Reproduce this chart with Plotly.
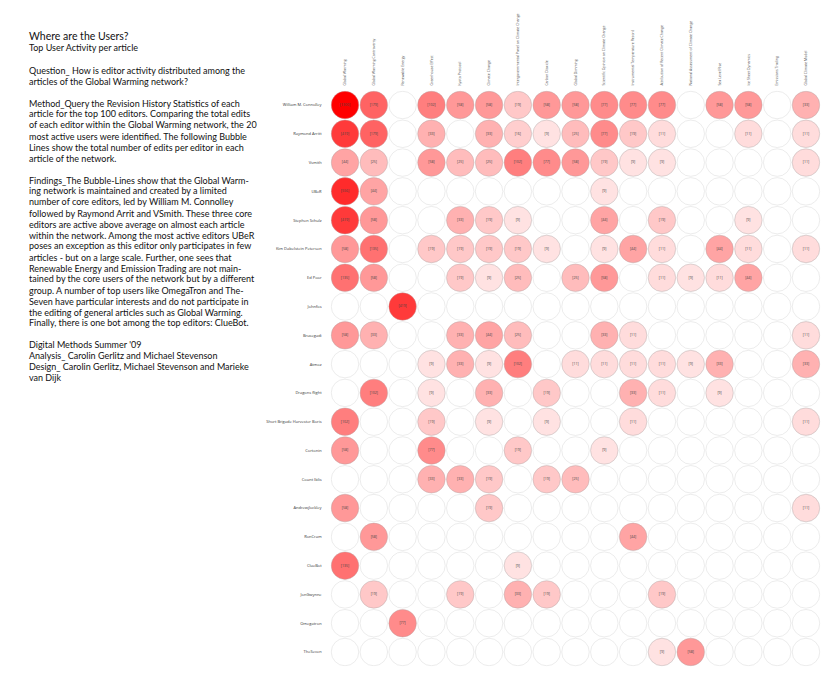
import math
import plotly.graph_objects as go

users = ["William M. Connolley", "Raymond Arritt", "Vsmith", "UBeR", "Stephen Schulz",
         "Kim Dabelstein Petersen", "Ed Poor", "Johnfos", "Brusegadi", "Atmoz",
         "Dragons flight", "Short Brigade Harvester Boris", "Cortonin", "Count Iblis",
         "Andrewjlockley", "RonCram", "ClueBot", "JonGwynne", "Omegatron", "TheSeven"]

articles = ["Global Warming", "Global Warming Controversy", "Renewable Energy",
            "Greenhouse Effect", "Kyoto Protocol", "Climate Change",
            "Intergovernmental Panel on Climate Change", "Carbon Dioxide",
            "Global Dimming", "Scientific Opinion on Climate Change",
            "Instrumental Temperature Record", "Attribution of Recent Climate Change",
            "National Assessment of Climate Change", "Sea Level Rise",
            "Ice Sheet Dynamics", "Emissions Trading", "Global Climate Model"]

# edits per user (rows) and article (columns); 0 = no activity
edits = [
    [1300, 179, 0, 102, 58, 58, 19, 58, 58, 77, 77, 77, 0, 58, 58, 0, 33],
    [419, 179, 0, 33, 0, 33, 16, 9, 25, 77, 19, 11, 0, 0, 11, 0, 11],
    [44, 25, 0, 58, 25, 25, 102, 77, 58, 19, 9, 9, 0, 0, 0, 0, 11],
    [556, 44, 0, 0, 0, 0, 0, 0, 0, 9, 0, 0, 0, 0, 0, 0, 0],
    [419, 58, 0, 0, 33, 19, 9, 0, 0, 44, 0, 19, 0, 0, 9, 0, 0],
    [58, 135, 0, 19, 19, 19, 19, 9, 0, 9, 44, 11, 0, 44, 11, 0, 11],
    [135, 58, 0, 0, 19, 9, 25, 0, 25, 58, 0, 11, 9, 11, 44, 0, 0],
    [0, 0, 419, 0, 0, 0, 0, 0, 0, 0, 0, 0, 0, 0, 0, 0, 0],
    [58, 33, 0, 0, 33, 44, 25, 0, 0, 33, 11, 0, 0, 0, 0, 0, 11],
    [0, 0, 0, 9, 33, 9, 102, 0, 11, 11, 11, 11, 9, 33, 0, 0, 33],
    [0, 102, 0, 9, 0, 33, 0, 19, 0, 0, 33, 11, 0, 9, 0, 0, 0],
    [102, 0, 0, 19, 0, 9, 0, 9, 0, 0, 11, 0, 0, 0, 0, 0, 11],
    [58, 0, 0, 77, 0, 0, 19, 0, 0, 9, 0, 0, 0, 0, 0, 0, 0],
    [0, 0, 0, 33, 33, 19, 0, 19, 25, 0, 0, 0, 0, 0, 0, 0, 0],
    [58, 0, 0, 0, 0, 19, 0, 0, 0, 0, 0, 0, 0, 0, 0, 0, 11],
    [0, 58, 0, 0, 0, 0, 0, 0, 0, 0, 44, 0, 0, 0, 0, 0, 0],
    [135, 0, 0, 0, 0, 0, 9, 0, 0, 0, 0, 0, 0, 0, 0, 0, 0],
    [0, 19, 0, 0, 19, 0, 33, 19, 0, 0, 0, 19, 0, 0, 0, 0, 0],
    [0, 0, 77, 0, 0, 0, 0, 0, 0, 0, 0, 0, 0, 0, 0, 0, 0],
    [0, 0, 0, 0, 0, 0, 0, 0, 0, 0, 0, 9, 58, 0, 0, 0, 0],
]

text_lines = [
    ("Where are the Users?", 36, 10.5),
    ("Top User Activity per article", 47.5, 9),
    ("Question_ How is editor activity distributed among the", 70.5, 9),
    ("articles of the Global Warming network?", 81.5, 9),
    ("Method_Query the Revision History Statistics of each", 103, 9),
    ("article for the top 100 editors. Comparing the total edits", 114, 9),
    ("of each editor within the Global Warming network, the 20", 125, 9),
    ("most active users were identified. The following Bubble", 136, 9),
    ("Lines show the total number of edits per editor in each", 147, 9),
    ("article of the network.", 158, 9),
    ("Findings_The Bubble-Lines show that the Global Warm-", 180, 9),
    ("ing network is maintained and created by a limited", 191, 9),
    ("number of core editors, led by William M. Connolley", 202, 9),
    ("followed by Raymond Arrit and VSmith. These three core", 213, 9),
    ("editors are active above average on almost each article", 224, 9),
    ("within the network. Among the most active editors UBeR", 235, 9),
    ("poses an exception as this editor only participates in few", 246, 9),
    ("articles - but on a large scale. Further, one sees that", 257, 9),
    ("Renewable Energy and Emission Trading are not main-", 268, 9),
    ("tained by the core users of the network but by a different", 279, 9),
    ("group. A number of top users like OmegaTron and The-", 290, 9),
    ("Seven have particular interests and do not participate in", 301, 9),
    ("the editing of general articles such as Global Warming.", 312, 9),
    ("Finally, there is one bot among the top editors: ClueBot.", 323, 9),
    ("Digital Methods Summer '09", 344.5, 9),
    ("Analysis_ Carolin Gerlitz and Michael Stevenson", 355.5, 9),
    ("Design_ Carolin Gerlitz, Michael Stevenson and Marieke", 366.5, 9),
    ("van Dijk", 377.5, 9),
]

OFF = 8  # page body margin
W, H = 839 - OFF, 686 - OFF
vmin, vmax = 8, 1300

ax, ay, fx, fy, fc, ft = [], [], [], [], [], []
for r, row in enumerate(edits):
    for c, v in enumerate(row):
        ax.append(c)
        ay.append(r)
        if v > 0:
            t = (math.log(v) - math.log(vmin)) / (math.log(vmax) - math.log(vmin))
            t = max(0.0, min(1.0, t))
            a = 0.1 + 0.9 * t ** 1.15
            fx.append(c)
            fy.append(r)
            fc.append(f"rgba(255,0,0,{a:.3f})")
            ft.append(f"[{v}]")

fig = go.Figure()
fig.add_trace(go.Scatter(
    x=ax, y=ay, mode="markers", hoverinfo="skip",
    marker=dict(size=27.5, color="white", line=dict(color="rgba(215,215,215,0.6)", width=0.8)),
))
fig.add_trace(go.Scatter(
    x=fx, y=fy, mode="markers+text", text=ft,
    textfont=dict(size=3.5, color="#444", family="Open Sans"),
    textposition="middle center",
    marker=dict(size=27.5, color=fc, line=dict(color="rgba(190,190,190,0.4)", width=0.8)),
))

annotations = []
for txt, ypx, fs in text_lines:
    annotations.append(dict(
        text=txt, xref="paper", yref="paper", x=(27 - OFF) / W, y=1 - (ypx - OFF) / H,
        xanchor="left", yanchor="middle", showarrow=False,
        font=dict(family="Lato", size=fs, color="#111"),
    ))

x0, x1 = 330.6 - OFF, 820.4 - OFF
y0, y1 = 90.6 - OFF, 666.4 - OFF
fig.update_layout(
    width=W, height=H,
    margin=dict(l=0, r=0, t=0, b=0),
    paper_bgcolor="white", plot_bgcolor="white",
    showlegend=False,
    annotations=annotations,
    xaxis=dict(
        domain=[x0 / W, x1 / W], range=[-0.5, len(articles) - 0.5],
        tickmode="array", tickvals=list(range(len(articles))), ticktext=articles,
        side="top", tickangle=-90, showgrid=False, zeroline=False, showline=False,
        ticks="", ticklabelstandoff=4,
        tickfont=dict(size=3.5, color="#555", family="Open Sans"),
    ),
    yaxis=dict(
        domain=[1 - y1 / H, 1 - y0 / H], range=[len(users) - 0.5, -0.5],
        tickmode="array", tickvals=list(range(len(users))), ticktext=users,
        showgrid=False, zeroline=False, showline=False, ticks="",
        ticklabelstandoff=8,
        tickfont=dict(size=4, color="#333", family="Open Sans"),
    ),
)

fig.write_html("out.html")
